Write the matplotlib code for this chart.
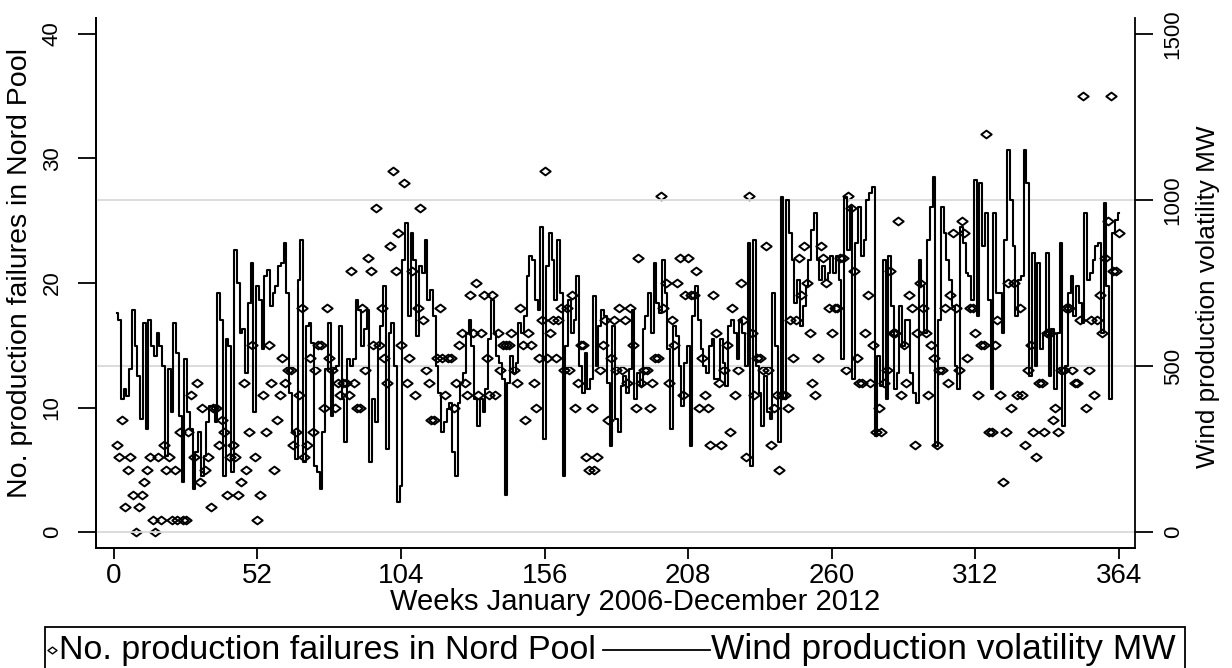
import numpy as np
import matplotlib
matplotlib.use('Agg')
import matplotlib.pyplot as plt
from matplotlib.path import Path
from matplotlib.lines import Line2D
from matplotlib.patches import Rectangle

# weekly failure counts, weeks 1..364
failures = [
    7, 6, 9, 2, 5, 6, 3, 0, 2, 3, 4, 5, 6, 1, 0, 6, 1, 7, 5, 6,
    1, 5, 1, 8, 1, 1, 8, 11, 6, 12, 4, 10, 5, 6, 2, 10, 10, 7, 9, 8,
    3, 6,
    7, 6, 3, 4, 12, 5, 8, 15, 6, 1, 3, 11, 8, 15, 12, 5, 9, 11, 14, 12,
    13, 13, 7, 8, 11, 18, 6, 7, 14, 8, 13, 15, 15, 10, 18, 14, 13, 10, 12, 11,
    12, 12, 11, 21, 12, 10,
    10, 18, 13, 22, 21, 15, 26, 15, 18, 14, 12, 23, 29, 21, 24, 15, 28, 12, 14, 21,
    11, 18, 26, 17, 13, 12, 9, 9, 14, 18, 14, 11, 14, 14, 10, 12, 15, 16, 12, 11,
    19, 16, 20, 11, 16, 19, 14, 11,
    19, 11, 16, 13, 15, 15, 15, 16, 13, 12, 18, 15, 9, 16, 15, 12, 10, 14, 17, 29,
    14, 16, 17, 14, 17, 18, 13, 18, 13, 19, 10, 12, 15, 15, 6, 5, 10, 5, 6, 13,
    15, 17, 9, 14, 17, 13, 18,
    13, 17, 12, 18, 15, 10, 22, 12, 13, 13, 10, 12, 14, 14, 27, 18, 20, 12, 17, 15,
    20, 22, 11, 19, 22, 19, 19, 21, 10, 14, 11, 10, 7, 19, 16, 12, 7, 13, 15, 8,
    18, 11, 13, 20, 17, 6, 27,
    16, 11, 14, 14, 13, 23, 13, 7, 10, 11, 5, 11, 11, 10, 17, 14, 17, 22, 19, 23,
    20, 16, 12, 11, 14, 23, 22, 20, 18, 16, 18, 18, 22, 22, 13, 27, 26, 21, 14, 12,
    12, 16, 19, 12, 15, 8, 10,
    8, 12, 13, 21, 16, 16, 25, 11, 15, 12, 19, 18, 7, 16, 20, 18, 16, 11, 15, 14,
    7, 13, 13, 18, 12, 19, 24, 18, 13, 25, 24, 14, 18, 18, 16, 11, 15, 15, 32, 8,
    8, 15, 17, 11, 4, 8, 20,
    10, 20, 11, 18, 11, 7, 13, 15, 8, 6, 12, 12, 8, 16, 16, 9, 10, 8, 13, 13,
    18, 18, 13, 12, 12, 17, 35, 10, 13, 17, 11, 17, 19, 16, 22, 25, 35, 21, 21, 24,
]

# weekly wind production volatility (MW), weeks 1..364
wind_mw = [
    660, 640, 400, 430, 410, 490, 670, 560, 470, 340, 630, 310, 640, 560, 530, 600, 560, 500, 230, 490,
    360, 630, 540, 350, 150, 520, 360, 310, 130, 240, 300, 170, 230, 330, 380, 380, 330, 720, 640, 170,
    580, 560,
    180, 850, 750, 600, 610, 480, 690, 810, 360, 740, 700, 550, 770, 790, 680, 720, 740, 800, 810, 870,
    720, 420, 300, 220, 760, 880, 210, 620, 630, 570, 200, 180, 130, 300, 490, 630, 350, 490, 500, 620,
    400, 270, 520, 500, 520, 700,
    670, 560, 610, 670, 210, 400, 330, 560, 620, 740, 250, 600, 630, 500, 90, 140, 820, 930, 650, 900,
    820, 590, 800, 780, 880, 700, 730, 650, 500, 420, 300, 330, 370, 390, 240, 170, 390, 450, 480, 600,
    640, 560, 400, 320, 400, 360, 430, 580,
    700, 600, 530, 510, 460, 110, 450, 530, 480, 510, 630, 600, 650, 770, 830, 820, 700, 670, 920, 280,
    800, 900, 820, 700, 880, 720, 170, 560, 700, 600, 640, 770, 500, 420, 540, 430, 460, 710, 500, 620,
    670, 650, 450, 260, 620, 340, 300,
    440, 470, 420, 490, 670, 400, 480, 440, 610, 650, 720, 600, 810, 690, 660, 820, 720, 550, 310, 620,
    590, 500, 380, 510, 560, 260, 650, 740, 640, 550, 500, 480, 560, 580, 460, 460, 580, 510, 440, 620,
    640, 600, 520, 640, 600, 500, 870,
    200, 880, 500, 420, 320, 470, 360, 340, 720, 560, 270, 1010, 400, 1000, 900, 820, 690, 760, 620, 680,
    740, 820, 910, 960, 820, 760, 800, 760, 780, 830, 780, 830, 760, 520, 1010, 850, 980, 460, 870, 980,
    830, 880, 1000, 1020, 1040, 290, 530,
    440, 820, 400, 830, 680, 430, 480, 680, 560, 640, 640, 480, 420, 390, 820, 740, 600, 880, 980, 1070,
    260, 640, 980, 900, 820, 760, 680, 500, 430, 920, 870, 780, 770, 700, 1060, 650, 1050, 860, 960, 700,
    430, 960, 720, 720, 600, 880, 1150,
    1000, 860, 650, 760, 770, 1150, 1050, 470, 840, 500, 810, 550, 600, 840, 470, 610, 430, 600, 870, 320,
    500, 720, 770, 650, 740, 690, 630, 960, 760, 780, 820, 860, 870, 600, 990, 740, 400, 900, 940, 960,
]

week_ticks = [0, 52, 104, 156, 208, 260, 312, 364]
fail_ticks = [0, 10, 20, 30, 40]
mw_ticks = [0, 500, 1000, 1500]

weeks_f = np.arange(1, len(failures) + 1)
weeks_w = np.arange(1, len(wind_mw) + 1)

plt.rcParams['font.family'] = ['Liberation Sans', 'DejaVu Sans']

fig = plt.figure(figsize=(12.32, 6.68), dpi=100)
ax1 = fig.add_axes([0.0779, 0.1796, 0.8433, 0.7934])
ax2 = ax1.twinx()

# squat diamond like stata's
diamond = Path([(-1, 0), (0, 0.75), (1, 0), (0, -0.75), (-1, 0)],
               [Path.MOVETO, Path.LINETO, Path.LINETO, Path.LINETO, Path.CLOSEPOLY])

ax1.plot(weeks_f, failures, linestyle='none', marker=diamond, markersize=7.5,
         markerfacecolor='none', markeredgecolor='black', markeredgewidth=1.4)
ax2.plot(weeks_w, wind_mw, color='black', lw=1.5, drawstyle='steps-mid')

ax1.set_xlim(-6.5, 369.8)
ax1.set_ylim(-1.285, 41.28)
ax2.set_ylim(-48.2, 1548)

ax2.set_yticks(mw_ticks)
ax2.yaxis.grid(True, color='#d9d9d9', lw=1.3)
ax2.get_ygridlines()[-1].set_visible(False)
ax2.set_axisbelow(True)

ax1.set_xticks(week_ticks)
ax1.set_yticks(fail_ticks)

for a in (ax1, ax2):
    a.spines['top'].set_visible(False)
    for s in a.spines.values():
        s.set_linewidth(1.3)
ax1.spines['right'].set_visible(False)

ax1.tick_params(axis='x', direction='out', length=8, width=1.3, pad=3, labelsize=20)
ax1.tick_params(axis='y', direction='out', length=13, width=1.3, pad=11, labelsize=16)
ax2.tick_params(axis='y', direction='out', length=13, width=1.3, pad=7, labelsize=16)
for lab in ax1.get_yticklabels() + ax2.get_yticklabels():
    lab.set_rotation(90)
    lab.set_va('center')

ax1.set_xlabel('Weeks January 2006-December 2012', fontsize=21)
ax1.xaxis.set_label_coords(0.519, -0.0755)
ax1.set_ylabel('No. production failures in Nord Pool', fontsize=20.5)
ax1.yaxis.set_label_coords(-0.0606, 0.519)
ax2.set_ylabel('Wind production volatility MW', fontsize=18.8)
ax2.yaxis.set_label_coords(1.0587, 0.475)

# legend box at the bottom
fig.patches.append(Rectangle((45 / 1232, -0.02), 1140 / 1232, (668 - 627) / 668 + 0.02,
                             transform=fig.transFigure, fill=False, edgecolor='black', lw=1.3))
ly = (668 - 650) / 668
fig.lines.append(Line2D([52 / 1232], [ly], transform=fig.transFigure, marker=diamond,
                        markersize=6.5, markerfacecolor='none', markeredgecolor='black',
                        markeredgewidth=1.0, linestyle='none'))
fig.text(59 / 1232, ly, 'No. production failures in Nord Pool', fontsize=24.5,
         va='center', ha='left')
fig.lines.append(Line2D([603 / 1232, 710 / 1232], [ly, ly], transform=fig.transFigure,
                        color='black', lw=1.3))
fig.text(711 / 1232, ly, 'Wind production volatility MW', fontsize=25.5,
         va='center', ha='left')

fig.savefig('out.png', dpi=100)
